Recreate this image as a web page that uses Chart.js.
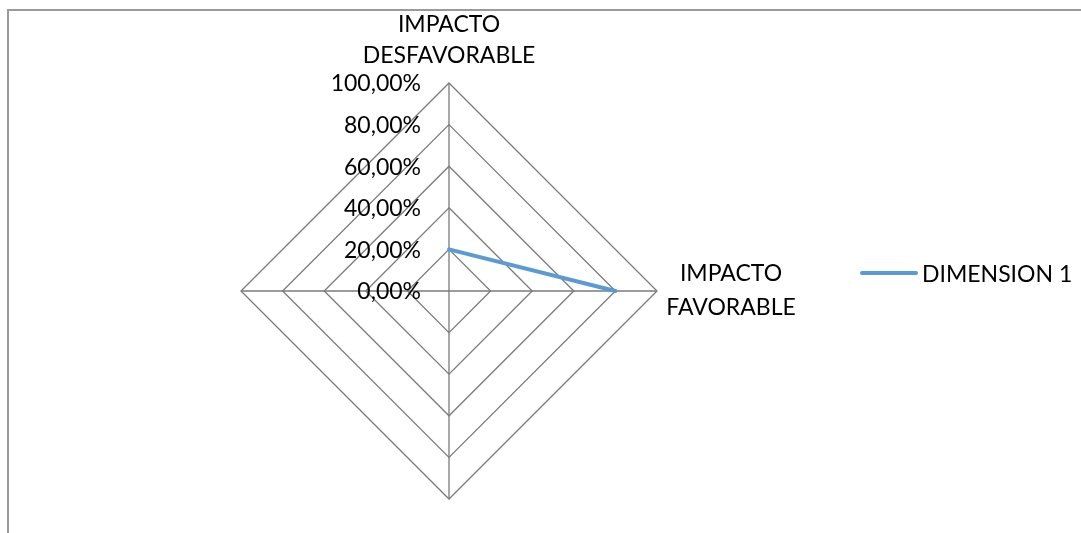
<!DOCTYPE html>
<html lang="es">
<head>
<meta charset="utf-8">
<title>DIMENSION 1</title>
<script src="https://cdn.jsdelivr.net/npm/chart.js@4"></script>
<style>
  html, body { margin: 0; padding: 0; background: #ffffff; overflow: hidden; }
  #wrap { position: relative; width: 1081px; height: 533px; }
  #frame { position: absolute; left: 7px; top: 9px; width: 1200px; height: 700px;
           border: 2px solid #9a9a9a; box-sizing: border-box; }
  canvas { position: absolute; left: 0; top: 0; }
</style>
</head>
<body>
<div id="wrap">
  <div id="frame"></div>
  <canvas id="chart" width="1081" height="533"></canvas>
</div>
<script>
// Radar axes (top, right, bottom, left) and the series plotted on them
const categories = [['IMPACTO', 'DESFAVORABLE'], ['IMPACTO', 'FAVORABLE'], '', ''];
const seriesName = 'DIMENSION 1';
const dimension1 = [0.20, 0.80, null, null];
const tickValues = [0, 0.2, 0.4, 0.6, 0.8, 1.0];
const tickLabels = ['0,00%', '20,00%', '40,00%', '60,00%', '80,00%', '100,00%'];

const FONT = '23px Lato, "Open Sans", sans-serif';
const TEXT = '#000000';
const GRID = '#7a7a7a';
const BLUE = '#5B9BD5';

// Draws tick labels, axis titles and the legend using the radial scale geometry
const annotate = {
  id: 'annotate',
  afterDraw(chart) {
    const ctx = chart.ctx;
    const r = chart.scales.r;
    ctx.save();
    ctx.font = FONT;
    ctx.fillStyle = TEXT;

    // value labels along the upper axis
    ctx.textAlign = 'right';
    ctx.textBaseline = 'middle';
    tickValues.forEach((v, i) => {
      const y = r.yCenter - r.getDistanceFromCenterForValue(v);
      ctx.fillText(tickLabels[i], r.xCenter - 28, y + 1);
    });

    // axis titles
    ctx.textAlign = 'center';
    const top = r.getPointPositionForValue(0, r.max);
    const topLines = [].concat(categories[0]);
    ctx.fillText(topLines[0], top.x, top.y - 58);
    ctx.fillText(topLines[1], top.x, top.y - 27);
    const right = r.getPointPositionForValue(1, r.max);
    const rightLines = [].concat(categories[1]);
    ctx.fillText(rightLines[0], right.x + 74, right.y - 17);
    ctx.fillText(rightLines[1], right.x + 74, right.y + 17);

    // legend
    const ds = chart.data.datasets[0];
    const lx = 862, ly = 273;
    ctx.strokeStyle = ds.borderColor;
    ctx.lineWidth = ds.borderWidth;
    ctx.lineCap = 'round';
    ctx.beginPath();
    ctx.moveTo(lx, ly);
    ctx.lineTo(lx + 54, ly);
    ctx.stroke();
    ctx.textAlign = 'left';
    ctx.fillText(ds.label, lx + 60, ly + 2);
    ctx.restore();
  }
};

new Chart(document.getElementById('chart'), {
  type: 'radar',
  data: {
    labels: categories,
    datasets: [{
      label: seriesName,
      data: dimension1,
      borderColor: BLUE,
      borderWidth: 4,
      borderCapStyle: 'round',
      fill: false,
      spanGaps: false,
      pointRadius: 0,
      pointHoverRadius: 0
    }]
  },
  options: {
    responsive: false,
    animation: false,
    layout: { padding: { left: 241, right: 424, top: 83, bottom: 34 } },
    plugins: { legend: { display: false }, tooltip: { enabled: false } },
    scales: {
      r: {
        min: 0,
        max: 1,
        ticks: { stepSize: 0.2, display: false },
        pointLabels: { display: false },
        grid: { color: GRID, lineWidth: 1.3 },
        angleLines: { color: GRID, lineWidth: 1.3 }
      }
    }
  },
  plugins: [annotate]
});
</script>
</body>
</html>
